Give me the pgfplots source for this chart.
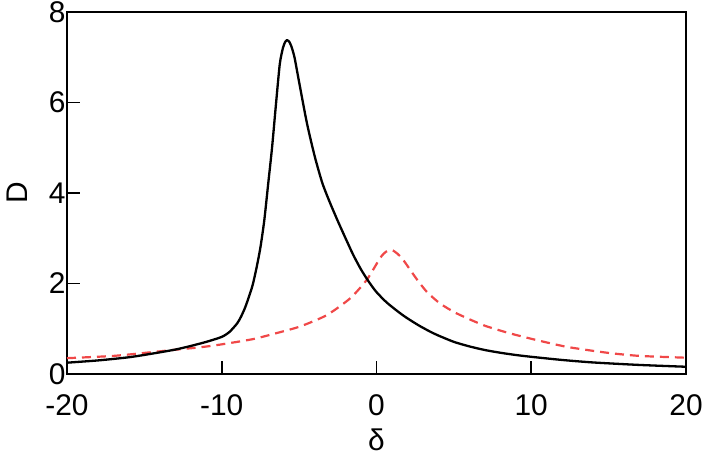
\documentclass[border=0pt]{standalone}
\usepackage{fontspec}
\setmainfont{Liberation Sans}
\usepackage{pgfplots}
\pgfplotsset{compat=1.18}

\definecolor{dashred}{RGB}{240,72,72}

\pgfplotstableread{
x y
-20 0.25
-18 0.30
-16 0.37
-14.5 0.45
-13 0.54
-12 0.62
-11 0.71
-10 0.82
-9.5 0.93
-9.0 1.12
-8.75 1.27
-8.5 1.46
-8.25 1.70
-8.0 1.97
-7.75 2.35
-7.5 2.80
-7.25 3.40
-7.0 4.20
-6.75 5.00
-6.5 5.95
-6.25 6.85
-6.05 7.20
-5.9 7.34
-5.78 7.38
-5.65 7.35
-5.5 7.24
-5.3 7.00
-5.0 6.45
-4.5 5.55
-4.0 4.82
-3.5 4.22
-3.0 3.78
-2.5 3.38
-2.0 3.00
-1.5 2.63
-1.0 2.31
-0.5 2.04
0 1.81
0.66 1.58
1.5 1.35
2.0 1.23
2.75 1.07
3.5 0.93
4.0 0.85
5.0 0.71
6.0 0.61
7.0 0.53
8.0 0.47
9.0 0.42
10 0.38
12 0.31
14 0.255
17 0.20
20 0.16
}\blackdata

\pgfplotstableread{
x y
-20 0.35
-17 0.40
-14.6 0.48
-12.9 0.54
-11.4 0.59
-10.1 0.65
-8 0.77
-6.5 0.90
-4.94 1.05
-3.22 1.30
-1.71 1.67
-0.63 2.08
0.23 2.56
0.6 2.70
0.98 2.74
1.35 2.66
1.73 2.52
2.55 2.12
3.24 1.82
4.10 1.56
5.18 1.34
6.90 1.08
8.5 0.91
10.1 0.77
12.3 0.60
14.9 0.47
17 0.40
20 0.36
}\reddata

\begin{document}
\begin{tikzpicture}
\begin{axis}[
  scale only axis,
  width=619bp, height=362bp,
  xmin=-20, xmax=20, ymin=0, ymax=8,
  xtick={-20,-10,0,10,20},
  ytick={0,2,4,6,8},
  tick align=inside,
  xtick pos=bottom, ytick pos=left,
  major tick length=13bp,
  tick style={line width=1.6bp, black},
  axis line style={line width=2bp},
  every axis plot/.append style={line join=round},
  font=\fontsize{30}{36}\selectfont,
  /pgf/number format/assume math mode=true,
  xticklabel style={anchor=base, yshift=-41bp},
  yticklabel style={xshift=2bp},
  xlabel={δ},
  ylabel={D},
  xlabel style={at={(axis description cs:0.5,-0.21)}, anchor=base},
  ylabel style={at={(axis description cs:-0.063,0.5)}, anchor=base},
]
\addplot[dashred, line width=2.2bp, dash pattern=on 9bp off 6bp, smooth, tension=0.4] table {\reddata};
\addplot[black, line width=2.3bp, smooth, tension=0.4] table {\blackdata};
\end{axis}
\pgfresetboundingbox
\path (current axis.south west) ++(-67bp,-85bp) rectangle (current axis.north east) ++(20bp,12bp);
\end{tikzpicture}
\end{document}
